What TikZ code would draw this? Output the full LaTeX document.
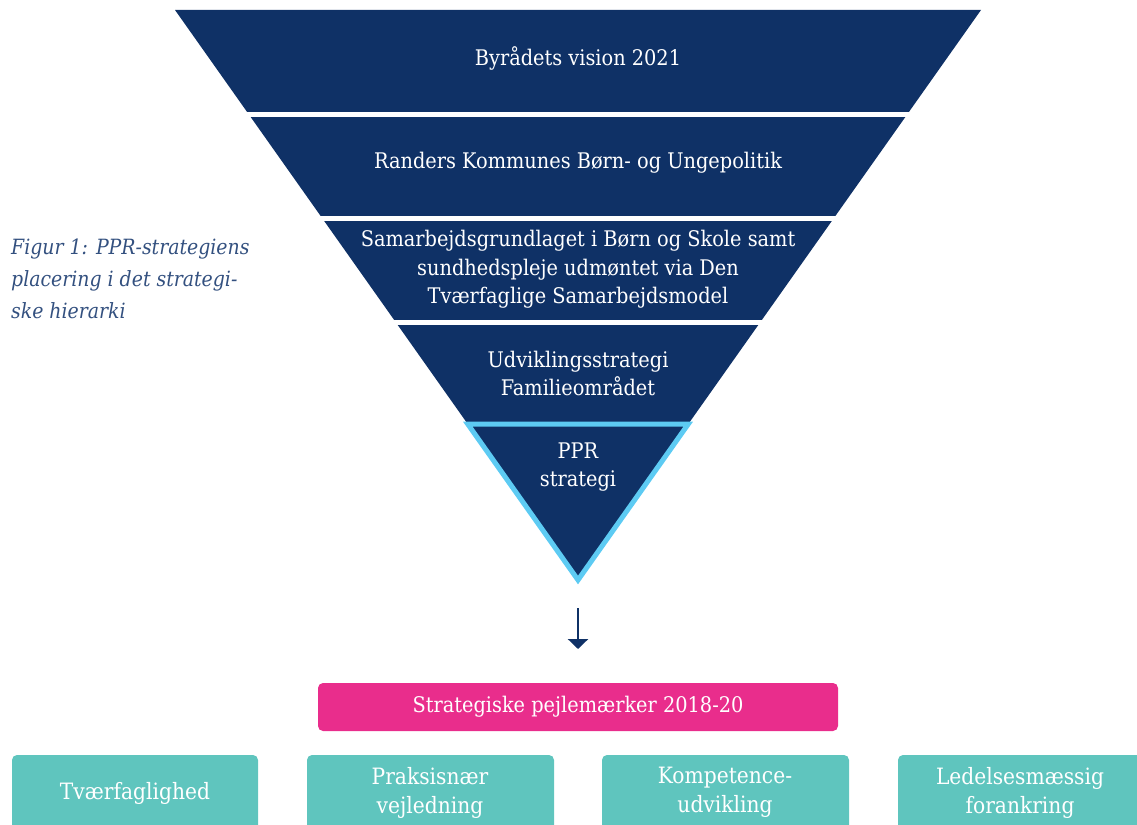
\documentclass[tikz,border=0pt]{standalone}
\usepackage{fontspec}
\setmainfont{DejaVu Serif Condensed}
\usetikzlibrary{arrows.meta}
\definecolor{navy}{HTML}{0F3166}
\definecolor{skyblue}{HTML}{5DCBF3}
\definecolor{pinkc}{HTML}{E92D8C}
\definecolor{tealc}{HTML}{5FC5BE}
\definecolor{captionc}{HTML}{33507F}
\tikzset{
  bandtext/.style={text=white, align=center, font=\fontsize{21.5}{28.5}\selectfont},
  boxtext/.style={text=white, align=center, font=\fontsize{22.5}{29}\selectfont},
  tealbox/.style={fill=tealc, rounded corners=5pt},
}
\begin{document}
\begin{tikzpicture}[x=1pt,y=-1pt]
\useasboundingbox (0,0) rectangle (1137,824);
% funnel
\fill[navy] (175,10) -- (981,10) -- (578,580) -- cycle;
\foreach \yy in {114.5,218.5,322.5} \draw[white,line width=4.5pt] (150,\yy) -- (1000,\yy);
\draw[skyblue, line width=5pt, fill=navy, line join=miter] (467.7,424) -- (688.3,424) -- (578,580) -- cycle;
% texts
\node[bandtext] (t1) at (578,58) {Byrådets vision 2021};
\node[bandtext] (t2) at (578,163) {Randers Kommunes Børn- og Ungepolitik};
\node[bandtext] (t3) at (578,269.5) {Samarbejdsgrundlaget i Børn og Skole samt\\sundhedspleje udmøntet via Den\\Tværfaglige Samarbejdsmodel};
\node[bandtext] (t4) at (578,373.5) {Udviklingsstrategi\\Familieområdet};
\node[bandtext] (t5) at (578,467) {PPR\\strategi};
% caption
\node[anchor=west, align=left, text=captionc, font=\fontsize{21}{32}\selectfont\itshape, inner sep=0pt] (cap) at (11,279) {Figur 1: PPR-strategiens\\placering i det strategi-\\ske hierarki};
% arrow
\coordinate (a1) at (578,608);
\coordinate (a2) at (578,649);
\draw[navy, line width=2.5pt, -{Triangle[width=20pt,length=10pt]}] (a1) -- (a2);
% pink box
\node[fill=pinkc, rounded corners=5pt, minimum width=520pt, minimum height=48pt, text=white, font=\fontsize{21.5}{28}\selectfont] (pink) at (578,707) {Strategiske pejlemærker 2018-20};
% teal boxes
\fill[tealbox] (12,755) rectangle (258,840);
\fill[tealbox] (307,755) rectangle (554,840);
\fill[tealbox] (602,755) rectangle (849,840);
\fill[tealbox] (898,755) rectangle (1145,840);
\node[boxtext] (b1) at (135,793) {Tværfaglighed};
\node[boxtext] (b2) at (430,792.5) {Praksisnær\\vejledning};
\node[boxtext] (b3) at (725,792.5) {Kompetence-\\udvikling};
\node[boxtext] (b4) at (1020,792.5) {Ledelsesmæssig\\forankring};
\end{tikzpicture}
\end{document}
